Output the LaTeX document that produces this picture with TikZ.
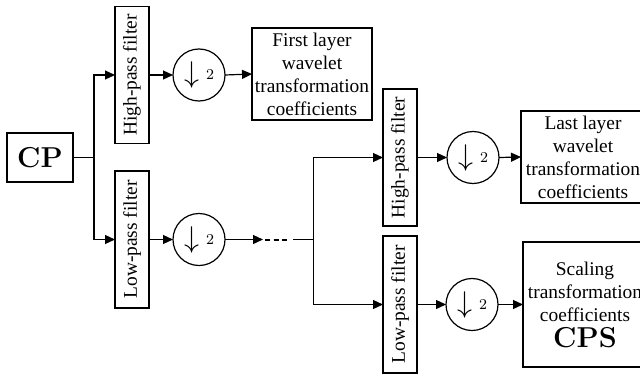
\documentclass[tikz,border=0pt]{standalone}
\usepackage{fontspec}
\newfontfamily\labelfont{Liberation Serif}
\usetikzlibrary{arrows.meta}
\begin{document}
\begin{tikzpicture}[x=0.5pt,y=-0.5pt,
  every node/.style={inner sep=0pt, outer sep=0pt},
  txt/.style={font=\labelfont\fontsize{9.7}{11.5}\selectfont},
  box/.style={draw, line width=0.6pt, txt, align=center},
  filterbox/.style={draw, line width=0.6pt, minimum width=17pt, minimum height=68.5pt, txt},
  down/.style={draw, circle, line width=0.6pt, minimum size=26pt},
  link/.style={line width=0.6pt, -{Triangle[length=5pt,width=4.5pt]}},
  wire/.style={line width=0.6pt}]
\useasboundingbox (0,0) rectangle (640,374);
\clip (0,0) rectangle (640,374);

% downsampling symbol
\newcommand{\dsymb}{\raisebox{-1.5pt}{\scalebox{1.5}{$\downarrow$}}\hspace{3.5pt}{\fontsize{7.5}{8}\selectfont 2}}

% input
\node[draw, line width=0.6pt, minimum width=33pt, minimum height=24.5pt, font=\Large\bfseries] (cp) at (40,157.5) {CP};
\coordinate (j1) at (94,157.5);

% first level
\node[filterbox] (hp1) at (132,75) {\rotatebox{90}{High-pass filter}};
\node[filterbox] (lp1) at (132,239.5) {\rotatebox{90}{Low-pass filter}};
\node[down] (c1) at (199,75) {\dsymb};
\node[down] (c2) at (199,239.5) {\dsymb};
\node[box, minimum width=60pt, minimum height=46pt] (first) at (312,74) {First layer\\wavelet\\transformation\\coefficients};

% intermediate levels
\coordinate (dA) at (263,239.5);
\coordinate (dB) at (265,239.5);
\coordinate (dC) at (289,239.5);
\coordinate (dD) at (293,239.5);
\coordinate (j2) at (313.5,239.5);

% last level
\node[filterbox] (hp2) at (400,157.5) {\rotatebox{90}{High-pass filter}};
\node[filterbox] (lp2) at (400,304.5) {\rotatebox{90}{Low-pass filter}};
\node[down] (c3) at (473,157.5) {\dsymb};
\node[down] (c4) at (472,304.5) {\dsymb};
\node[box, minimum width=62pt, minimum height=46pt] (last) at (583,157) {Last layer\\wavelet\\transformation\\coefficients};
\node[box, minimum width=62pt, minimum height=62.5pt] (scale) at (585,304.5) {Scaling\\transformation\\coefficients\\[1.5pt]{\normalfont\Large\bfseries CPS}};

% connectors
\draw[wire] (cp.east) -- (j1);
\draw[link] (j1) |- (hp1.west);
\draw[link] (j1) |- (lp1.west);
\draw[link] (hp1.east) -- (c1.west);
\draw[link] (c1.east) -- (first.west);
\draw[link] (lp1.east) -- (c2.west);
\draw[link] (c2.east) -- (dA);
\draw[line width=1pt, dash pattern=on 2.5pt off 1.8pt] (dB) -- (dC);
\draw[wire] (dD) -- (j2);
\draw[link] (j2) |- (hp2.west);
\draw[link] (j2) |- (lp2.west);
\draw[link] (hp2.east) -- (c3.west);
\draw[link] (c3.east) -- (last.west);
\draw[link] (lp2.east) -- (c4.west);
\draw[link] (c4.east) -- (scale.west);
\end{tikzpicture}
\end{document}
